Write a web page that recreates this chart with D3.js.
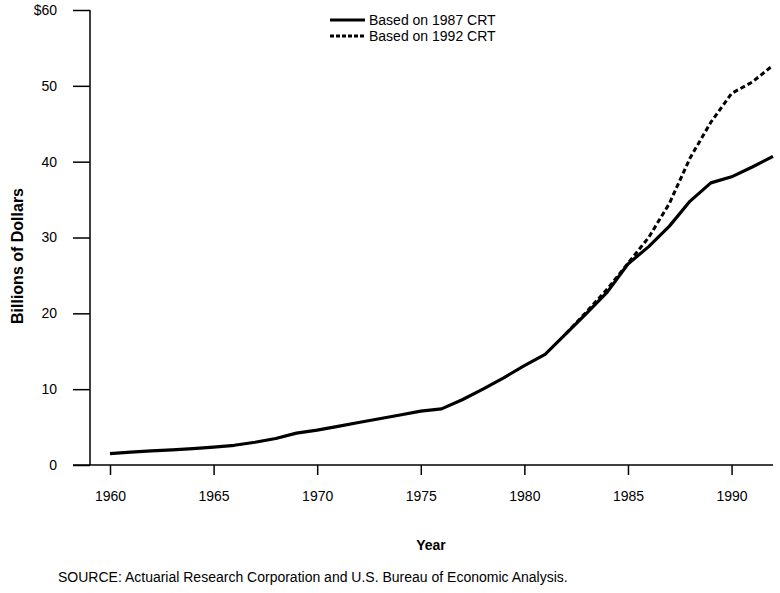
<!DOCTYPE html>
<html>
<head>
<meta charset="utf-8">
<script src="https://cdn.jsdelivr.net/npm/d3@7"></script>
<style>
  html, body { margin: 0; padding: 0; background: #fff; }
  svg { display: block; }
  text { font-family: "Liberation Sans", Arial, Helvetica, sans-serif; fill: #000; }
</style>
</head>
<body>
<svg id="chart" width="780" height="593"></svg>
<script>
const years = [1960,1961,1962,1963,1964,1965,1966,1967,1968,1969,1970,1971,1972,1973,1974,1975,1976,1977,1978,1979,1980,1981,1982,1983,1984,1985,1986,1987,1988,1989,1990,1991,1992];
const crt1987 = [1.5,1.7,1.85,2.0,2.15,2.35,2.6,3.0,3.5,4.2,4.6,5.1,5.6,6.1,6.6,7.1,7.4,8.6,10.0,11.5,13.1,14.6,17.3,20.0,22.8,26.5,28.8,31.5,34.8,37.2,38.0,39.3,40.7];
const years1992 = [1982,1983,1984,1985,1986,1987,1988,1989,1990,1991,1992];
const crt1992 = [17.3,20.2,23.2,26.6,30.0,34.5,40.5,45.2,49.0,50.5,52.7];
const xTicks = [1960,1965,1970,1975,1980,1985,1990];
const yTicks = [0,10,20,30,40,50,60];
const yTickLabels = ["0","10","20","30","40","50","$60"];
const legendLabels = ["Based on 1987 CRT","Based on 1992 CRT"];
const xTitle = "Year";
const yTitle = "Billions of Dollars";
const sourceNote = "SOURCE: Actuarial Research Corporation and U.S. Bureau of Economic Analysis.";

const svg = d3.select("#chart");
const x = d3.scaleLinear().domain([1960, 1992]).range([110, 773]);
const y = d3.scaleLinear().domain([0, 60]).range([465, 10]);
const axisLeftX = 90;

// Y axis
const yAxis = d3.axisLeft(y).tickValues(yTicks).tickSize(17).tickPadding(16)
  .tickFormat((d, i) => yTickLabels[i]);
const gy = svg.append("g").attr("transform", `translate(${axisLeftX},0)`).call(yAxis);
gy.select(".domain").attr("d", `M0,${y(60)}V${y(0)}`).attr("stroke", "#000").attr("stroke-width", 1.5);
gy.selectAll(".tick line").attr("stroke", "#000").attr("stroke-width", 1.5);
gy.selectAll(".tick text").attr("font-size", 14).attr("font-family", "Liberation Sans, Arial, sans-serif");

// X axis
const xAxis = d3.axisBottom(x).tickValues(xTicks).tickSize(10).tickPadding(16).tickFormat(d3.format("d"));
const gx = svg.append("g").attr("transform", `translate(0,${y(0)})`).call(xAxis);
gx.select(".domain").attr("d", `M73,0H773`).attr("stroke", "#000").attr("stroke-width", 1.5);
gx.selectAll(".tick line").attr("stroke", "#000").attr("stroke-width", 1.5);
gx.selectAll(".tick text").attr("font-size", 14).attr("font-family", "Liberation Sans, Arial, sans-serif");

// Lines
const line = d3.line().x(d => x(d[0])).y(d => y(d[1]));
svg.append("path")
  .datum(years.map((yr, i) => [yr, crt1987[i]]))
  .attr("d", line).attr("fill", "none").attr("stroke", "#000")
  .attr("stroke-width", 3.2).attr("stroke-linejoin", "round");
svg.append("path")
  .datum(years1992.map((yr, i) => [yr, crt1992[i]]))
  .attr("d", line).attr("fill", "none").attr("stroke", "#000")
  .attr("stroke-width", 3).attr("stroke-dasharray", "5,3");

// Legend
const legend = svg.append("g");
legendLabels.forEach((lab, i) => {
  const ly = 20 + i * 16;
  legend.append("line").attr("x1", 330).attr("x2", 365).attr("y1", ly).attr("y2", ly)
    .attr("stroke", "#000").attr("stroke-width", 3)
    .attr("stroke-dasharray", i === 1 ? "4,2" : null);
  legend.append("text").attr("x", 369).attr("y", ly + 5).attr("font-size", 14).text(lab);
});

// Titles
svg.append("text").attr("x", 431).attr("y", 550).attr("text-anchor", "middle")
  .attr("font-size", 14).attr("font-weight", "bold").text(xTitle);
svg.append("text").attr("transform", "translate(23,256) rotate(-90)").attr("text-anchor", "middle")
  .attr("font-size", 16).attr("font-weight", "bold").text(yTitle);
svg.append("text").attr("x", 58).attr("y", 582).attr("font-size", 14).text(sourceNote);
</script>
</body>
</html>
